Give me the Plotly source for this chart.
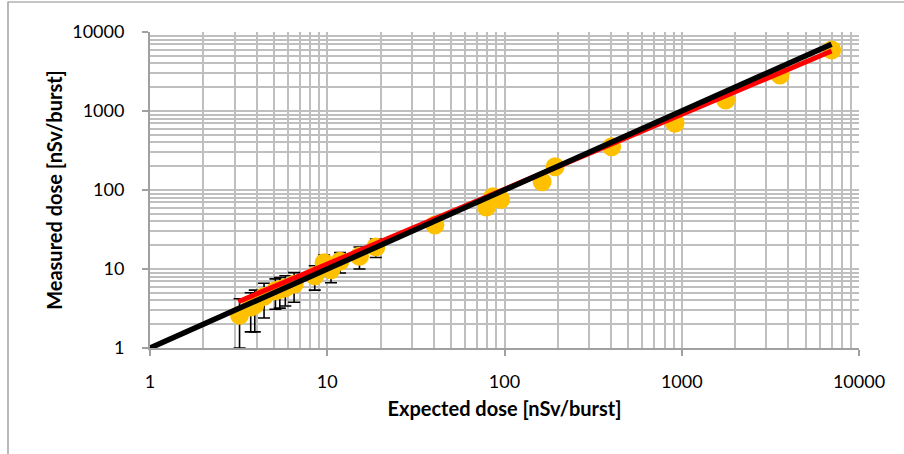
import numpy as np
import plotly.graph_objects as go

# Low-dose measurements (with error bars)
low_expected = [3.2, 3.7, 3.9, 4.4, 5.1, 5.4, 5.8, 6.5, 8.5, 9.6, 10.5, 11.8, 15.2, 18.8]
low_measured = [2.6, 3.3, 3.5, 4.5, 5.3, 5.5, 5.8, 6.4, 8.2, 12.0, 9.8, 12.5, 14.5, 19.0]
low_error = [1.6, 1.7, 1.9, 2.1, 2.2, 2.3, 2.4, 2.6, 2.8, 3.0, 3.1, 3.6, 4.5, 5.0]

# Higher-dose measurements
high_expected = [40.5, 79, 86, 95, 163, 193, 402, 916, 1770, 3585, 7015]
high_measured = [36, 61, 82, 76, 127, 197, 353, 699, 1377, 2856, 5916]

# Power-law fit (red) and identity line (black)
fit_a, fit_b = 1.30, 0.948
fit_range = [3.15, 7000]
identity_range = [1, 7000]

x_ticks = [1, 10, 100, 1000, 10000]
y_ticks = [1, 10, 100, 1000, 10000]
minor_vals = [m * 10 ** k for k in range(4) for m in range(2, 10)]

FONT = "Lato"

fig = go.Figure()

fig.add_trace(go.Scatter(
    x=low_expected + high_expected,
    y=low_measured + high_measured,
    mode="markers",
    marker=dict(color="#FFC000", size=19, line=dict(width=0)),
    error_y=dict(type="data",
                 array=low_error + [0] * len(high_expected),
                 color="black", thickness=1.6, width=6, visible=True),
    showlegend=False,
))

fx = np.array(fit_range, dtype=float)
fig.add_trace(go.Scatter(
    x=fx, y=fit_a * fx ** fit_b, mode="lines",
    line=dict(color="#FF0000", width=5), showlegend=False,
))

ix = np.array(identity_range, dtype=float)
fig.add_trace(go.Scatter(
    x=ix, y=ix, mode="lines",
    line=dict(color="black", width=5.5), showlegend=False,
))

axis_common = dict(
    type="log", range=[0, 4],
    showgrid=True, gridcolor="#BFBFBF", gridwidth=2,
    showline=True, linecolor="#A0A0A0", linewidth=2,
    ticks="outside", ticklen=6, tickcolor="#A0A0A0", tickwidth=1.5,
    tickfont=dict(family=FONT, size=18, color="black"),
    zeroline=False,
    minor=dict(tickmode="array", tickvals=minor_vals, showgrid=True,
               gridcolor="#BFBFBF", gridwidth=2, ticks=""),
)

fig.update_xaxes(**axis_common, tickmode="array", tickvals=x_ticks,
                 ticktext=[str(v) for v in x_ticks], ticklabelstandoff=10,
                 title=dict(text="<b>Expected dose [nSv/burst]</b>",
                            font=dict(family=FONT, size=20, color="black"),
                            standoff=11))
fig.update_yaxes(**axis_common, tickmode="array", tickvals=y_ticks,
                 ticktext=[str(v) for v in y_ticks], ticklabelstandoff=14,
                 title=dict(text="<b>Measured dose [nSv/burst]</b>",
                            font=dict(family=FONT, size=20, color="black"),
                            standoff=4))

L, R, T, B = 150, 45, 32, 106
W, H = 904, 454
pw, ph = W - L - R, H - T - B
fig.add_shape(type="rect", xref="paper", yref="paper",
              x0=(8 - L) / pw, x1=(910 - L) / pw,
              y0=(H - B - 470) / ph, y1=(H - B - 2) / ph,
              line=dict(color="#8C8C8C", width=1.2), layer="below")

fig.update_layout(
    width=W, height=H,
    margin=dict(l=L, r=R, t=T, b=B),
    paper_bgcolor="white", plot_bgcolor="white",
    font=dict(family=FONT),
)

fig.write_html("out.html")
